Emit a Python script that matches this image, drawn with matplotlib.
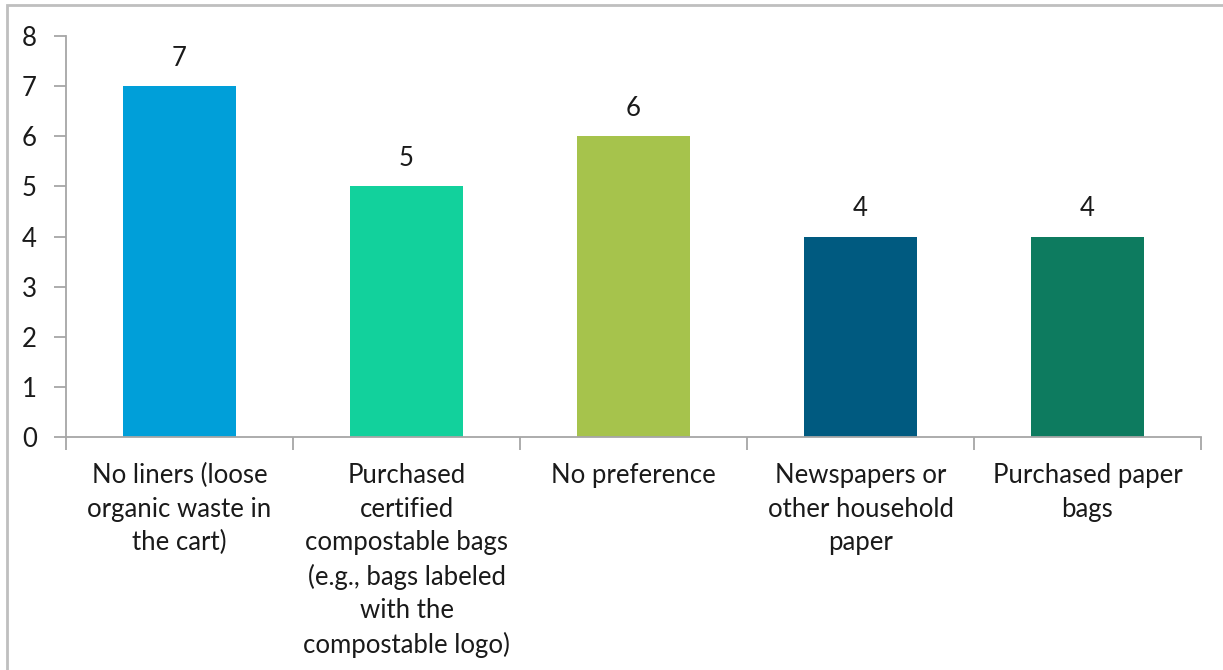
import matplotlib.pyplot as plt
from matplotlib.patches import Rectangle
import numpy as np

# Chart data
categories = [
    "No liners (loose\norganic waste in\nthe cart)",
    "Purchased\ncertified\ncompostable bags\n(e.g., bags labeled\nwith the\ncompostable logo)",
    "No preference",
    "Newspapers or\nother household\npaper",
    "Purchased paper\nbags",
]
values = [7, 5, 6, 4, 4]
colors = ["#009fd9", "#12d19c", "#a6c34c", "#005a80", "#0d7b5f"]

plt.rcParams["font.family"] = ["Lato", "DejaVu Sans"]

fig = plt.figure(figsize=(12.23, 6.70), dpi=100)
ax = fig.add_axes([0.054, 0.348, 0.928, 0.598])

x = np.arange(len(categories))
bars = ax.bar(x, values, width=0.5, color=colors)

# Value labels above bars
for xi, v in zip(x, values):
    ax.text(xi, v + 0.3, str(v), ha="center", va="bottom", fontsize=18.5, color="#1a1a1a")

ax.set_xlim(-0.5, len(categories) - 0.5)
ax.set_ylim(0, 8)
ax.set_yticks(range(0, 9))

# Category labels placed under bars, ticks between categories
ax.set_xticks(np.arange(-0.5, len(categories)), minor=False)
ax.set_xticklabels([])
ax.set_xticks(x, minor=True)
ax.set_xticklabels(categories, minor=True, fontsize=18.5, color="#1a1a1a", linespacing=1.42)
ax.tick_params(axis="x", which="minor", length=0, pad=19)
ax.tick_params(axis="x", which="major", length=9, color="#a6a6a6", width=1.3)
ax.tick_params(axis="y", length=9, color="#a6a6a6", width=1.3, labelsize=18.5,
               labelcolor="#1a1a1a", pad=12)

for side in ["top", "right"]:
    ax.spines[side].set_visible(False)
for side in ["left", "bottom"]:
    ax.spines[side].set_color("#a6a6a6")
    ax.spines[side].set_linewidth(1.3)

# Light border around the chart area
fig.patches.append(Rectangle((7 / 1223, -0.05), 1.1, 1 - 5 / 670 + 0.05,
                             transform=fig.transFigure, fill=False,
                             edgecolor="#bfbfbf", linewidth=2))

fig.savefig("out.png", dpi=100)
